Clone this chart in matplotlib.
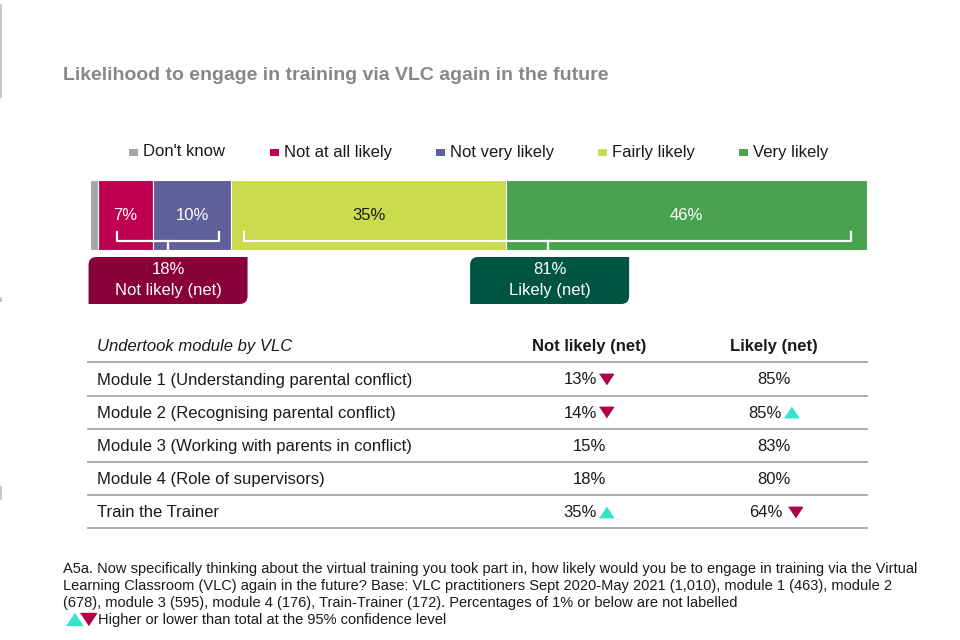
import matplotlib
matplotlib.use("Agg")
import matplotlib.pyplot as plt
from matplotlib.patches import PathPatch, Rectangle
from matplotlib.path import Path
import matplotlib.transforms as mtransforms

plt.rcParams['font.family'] = ['Liberation Sans', 'DejaVu Sans']

# ---------------- data ----------------
title = "Likelihood to engage in training via VLC again in the future"
categories = ["Don't know", "Not at all likely", "Not very likely", "Fairly likely", "Very likely"]
values = [1, 7, 10, 35, 46]
value_labels = ["", "7%", "10%", "35%", "46%"]
colors = ["#A6A6A6", "#BE0050", "#5F5F9C", "#C9DC4C", "#49A24D"]
label_colors = ["white", "white", "white", "#1a1a1a", "white"]

net_labels = ["Not likely (net)", "Likely (net)"]
net_values = [18, 81]
net_groups = [(1, 2), (3, 4)]          # indexes of segments grouped by brackets
net_colors = ["#880038", "#005443"]

table_header = ["Undertook module by VLC", "Not likely (net)", "Likely (net)"]
modules = ["Module 1 (Understanding parental conflict)",
           "Module 2 (Recognising parental conflict)",
           "Module 3 (Working with parents in conflict)",
           "Module 4 (Role of supervisors)",
           "Train the Trainer"]
not_likely = [13, 14, 15, 18, 35]
likely = [85, 85, 83, 80, 64]
not_likely_sig = ["down", "down", "", "", "up"]
likely_sig = ["", "up", "", "", "down"]

footnote_lines = [
    "A5a. Now specifically thinking about the virtual training you took part in, how likely would you be to engage in training via the Virtual",
    "Learning Classroom (VLC) again in the future? Base: VLC practitioners Sept 2020-May 2021 (1,010), module 1 (463), module 2",
    "(678), module 3 (595), module 4 (176), Train-Trainer (172). Percentages of 1% or below are not labelled",
]
sig_legend = "Higher or lower than total at the 95% confidence level"

UP_COLOR = "#33E3CB"
DOWN_COLOR = "#B0004A"

# ---------------- figure ----------------
W, H = 960, 640
fig = plt.figure(figsize=(9.6, 6.4), dpi=100)
fig.patch.set_facecolor("white")
ax = fig.add_axes([0, 0, 1, 1])
ax.set_xlim(0, W)
ax.set_ylim(H, 0)
ax.axis("off")

# left edge artefacts
ax.plot([1, 1], [5, 97], color="#BBBBBB", lw=1.2)
ax.plot([1, 1], [298, 301], color="#BBBBBB", lw=1.2)
ax.plot([1, 1], [487, 499], color="#BBBBBB", lw=1.2)

# title
ax.text(63, 76, title, fontsize=14, fontweight="bold", color="#878787",
        ha="left", va="center")

# legend
leg_sq_x = [133, 274, 440, 602, 743]
for x, c, lab in zip(leg_sq_x, colors, categories):
    ax.add_patch(Rectangle((x - 4.5, 148.5), 9, 7, color=c, lw=0))
    ax.text(x + 10, 152, lab, fontsize=12, color="#1a1a1a", ha="left", va="center")

# ---------------- stacked bar ----------------
total = sum(values)
bar_l, bar_r, bar_t, bar_b = 90, 867, 180, 250
bax = fig.add_axes([bar_l / W, 1 - bar_b / H, (bar_r - bar_l) / W, (bar_b - bar_t) / H])
bax.set_xlim(0, total)
bax.set_ylim(0, 1)
bax.axis("off")
lefts = []
acc = 0
for v in values:
    lefts.append(acc)
    acc += v
bax.barh([0.5] * len(values), values, left=lefts, height=1.0, color=colors,
         edgecolor="white", linewidth=0.8)
for l, v, lab, tc in zip(lefts, values, value_labels, label_colors):
    if lab:
        bax.text(l + v / 2, 0.5, lab, fontsize=12, color=tc, ha="center", va="center")

trans = mtransforms.blended_transform_factory(bax.transData, bax.transAxes)
upp = total / (bar_r - bar_l)  # data units per pixel
bracket_pad = [(19, 12), (13, 16)]
box_shift = [0, 2]
box_w = 159 * upp
for (i0, i1), (pl, pr), col, nv, nl, bs in zip(net_groups, bracket_pad, net_colors,
                                               net_values, net_labels, box_shift):
    x0 = lefts[i0] + pl * upp
    x1 = lefts[i1] + values[i1] - pr * upp
    xm = (x0 + x1) / 2
    yb, ye = 0.13, 0.26
    bax.plot([x0, x0, x1, x1], [ye, yb, yb, ye], color="white", lw=1.6,
             transform=trans, solid_joinstyle="round", clip_on=False)
    bax.plot([xm, xm], [yb, 0.0], color="white", lw=1.6, transform=trans, clip_on=False)
    # box with rounded top-left and bottom-right corners
    px0 = bar_l + (xm - box_w / 2) / upp + bs
    px1 = bar_l + (xm + box_w / 2) / upp + bs
    py0, py1 = 257, 304
    r = 8
    verts = [
        (px0 + r, py0), (px1, py0), (px1, py1 - r),
        (px1, py1), (px1 - r, py1),
        (px0, py1), (px0, py0 + r),
        (px0, py0), (px0 + r, py0), (px0 + r, py0)]
    codes = [Path.MOVETO, Path.LINETO, Path.LINETO,
             Path.CURVE3, Path.CURVE3,
             Path.LINETO, Path.LINETO,
             Path.CURVE3, Path.CURVE3, Path.CLOSEPOLY]
    ax.add_patch(PathPatch(Path(verts, codes), facecolor=col, edgecolor="none"))
    pxm = (px0 + px1) / 2
    ax.text(pxm, 269, f"{nv}%", fontsize=12, color="white", ha="center", va="center")
    ax.text(pxm, 291, nl, fontsize=12, color="white", ha="center", va="center")

# ---------------- table ----------------
tab_l, tab_r = 88, 867
col_x = [97, 589, 774]
header_y = 347
row_y0, row_h = 380, 33.2
line_color = "#A6A6A6"

ax.text(col_x[0], header_y, table_header[0], fontsize=12, style="italic",
        color="#1a1a1a", ha="left", va="center")
ax.text(col_x[1], header_y, table_header[1], fontsize=12, fontweight="bold",
        color="#1a1a1a", ha="center", va="center")
ax.text(col_x[2], header_y, table_header[2], fontsize=12, fontweight="bold",
        color="#1a1a1a", ha="center", va="center")

for k in range(len(modules) + 1):
    yl = row_y0 - row_h / 2 + k * row_h - 1
    ax.plot([tab_l, tab_r], [yl, yl], color=line_color, lw=1.3)


def tri(x, y, kind, size=10):
    if kind == "up":
        ax.plot(x, y, marker=[(-1, -0.75), (1, -0.75), (0, 0.75)], markersize=size,
                color=UP_COLOR, linestyle="none")
    else:
        ax.plot(x, y, marker=[(-1, 0.75), (1, 0.75), (0, -0.75)], markersize=size,
                color=DOWN_COLOR, linestyle="none")


for i, (m, nlv, lv, ns, ls) in enumerate(zip(modules, not_likely, likely, not_likely_sig, likely_sig)):
    y = row_y0 + i * row_h
    ax.text(col_x[0], y, m, fontsize=12, color="#1a1a1a", ha="left", va="center")
    for ci, (cx, v, s) in enumerate(((col_x[1], nlv, ns), (col_x[2], lv, ls))):
        if s:
            gap = 21 if (ci == 1 and s == "down") else 17
            ax.text(cx + 8, y, f"{v}%", fontsize=12, color="#1a1a1a", ha="right", va="center")
            tri(cx + gap, y - 1, s)
        else:
            ax.text(cx, y, f"{v}%", fontsize=12, color="#1a1a1a", ha="center", va="center")

# ---------------- footnote ----------------
for j, line in enumerate(footnote_lines):
    ax.text(63, 569 + j * 17, line, fontsize=10.5, color="#1a1a1a", ha="left", va="center")
tri(74, 619, "up", size=11.5)
tri(88, 619, "down", size=11.5)
ax.text(98, 620, sig_legend, fontsize=10.5, color="#1a1a1a", ha="left", va="center")

fig.savefig("out.png", dpi=100, facecolor="white")
